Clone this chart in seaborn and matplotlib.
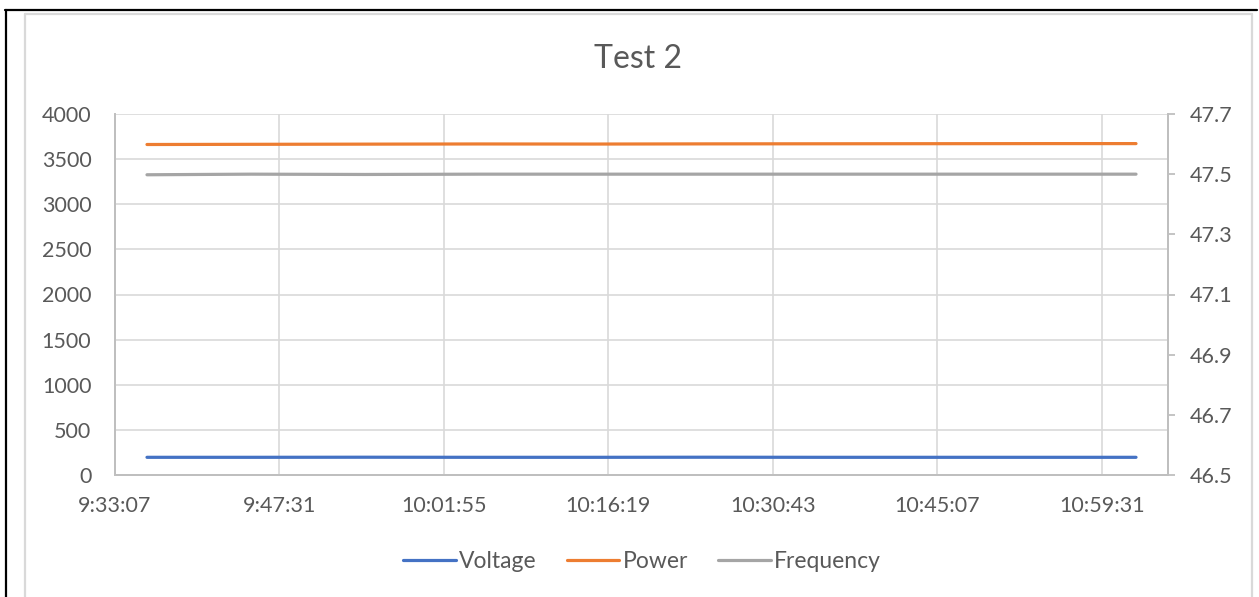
import pandas as pd
import matplotlib
matplotlib.use("Agg")
import matplotlib.pyplot as plt
from matplotlib.lines import Line2D
import seaborn as sns

# -----------------------------
# DATA
# -----------------------------

TIMES = ["9:35:55", "9:45:00", "9:55:00", "10:05:00", "10:15:00",
         "10:25:00", "10:35:00", "10:45:00", "10:55:00", "11:02:30"]

VOLTAGE = [196, 196, 197, 196, 196, 197, 196, 196, 196, 196]
POWER = [3662, 3664, 3666, 3668, 3667, 3669, 3670, 3671, 3672, 3672]
FREQUENCY = [47.498, 47.500, 47.499, 47.500, 47.500, 47.500, 47.500, 47.500, 47.500, 47.500]

X_TICK_LABELS = ["9:33:07", "9:47:31", "10:01:55", "10:16:19",
                 "10:30:43", "10:45:07", "10:59:31"]
X_LIMITS = ["9:33:07", "11:05:18"]

LEFT_TICKS = [0, 500, 1000, 1500, 2000, 2500, 3000, 3500, 4000]
RIGHT_TICKS = [46.5, 46.7, 46.9, 47.1, 47.3, 47.5, 47.7]

BLUE = "#4472C4"
ORANGE = "#ED7D31"
GREY = "#A5A5A5"
TEXT = "#595959"
GRID = "#D9D9D9"
SPINE = "#BFBFBF"


def to_time(labels):
    return pd.to_datetime(["2000-01-01 " + t for t in labels])


df = pd.DataFrame({
    "time": to_time(TIMES),
    "Voltage": VOLTAGE,
    "Power": POWER,
    "Frequency": FREQUENCY,
})

# -----------------------------
# PLOT
# -----------------------------

sns.set_theme(style="white")
plt.rcParams["font.family"] = ["Lato", "DejaVu Sans"]

fig = plt.figure(figsize=(12.59, 5.97), dpi=100)
ax = fig.add_axes([115 / 1259, 1 - 475 / 597, (1168 - 115) / 1259, (475 - 114) / 597])
ax2 = ax.twinx()

sns.lineplot(data=df, x="time", y="Voltage", ax=ax, color=BLUE, lw=2.3, legend=False)
sns.lineplot(data=df, x="time", y="Power", ax=ax, color=ORANGE, lw=2.3, legend=False)
sns.lineplot(data=df, x="time", y="Frequency", ax=ax2, color=GREY, lw=2.3, legend=False)

ax.set_xlim(to_time(X_LIMITS))
ax.set_xticks(to_time(X_TICK_LABELS))
ax.set_xticklabels(X_TICK_LABELS)
ax.set_ylim(0, 4000)
ax.set_yticks(LEFT_TICKS)
ax2.set_ylim(46.5, 47.7)
ax2.set_yticks(RIGHT_TICKS)
ax2.set_yticklabels([f"{v:.1f}" for v in RIGHT_TICKS])

ax.set_xlabel("")
ax.set_ylabel("")
ax2.set_ylabel("")

ax.grid(True, color=GRID, lw=1.2)
ax.set_axisbelow(True)

for a in (ax, ax2):
    a.spines["top"].set_visible(False)
    for side in ("left", "right", "bottom"):
        a.spines[side].set_color(SPINE)
        a.spines[side].set_linewidth(1.3)

ax.tick_params(axis="both", length=0, labelsize=15.5, labelcolor=TEXT)
ax.tick_params(axis="y", pad=17)
ax.tick_params(axis="x", pad=15)
ax2.tick_params(axis="y", length=5, width=1.3, color=SPINE, labelsize=15.5,
                labelcolor=TEXT, pad=11)

fig.text(638 / 1259, 1 - 59 / 597, "Test 2", ha="center", va="center",
         fontsize=23, color=TEXT)

handles = [Line2D([], [], color=c, lw=2.3) for c in (BLUE, ORANGE, GREY)]
fig.legend(handles, ["Voltage", "Power", "Frequency"], loc="center",
           bbox_to_anchor=(642 / 1259, 1 - 562 / 597), ncol=3, frameon=False,
           fontsize=16.5, labelcolor=TEXT, handlelength=2.3, handletextpad=0.15,
           columnspacing=1.3)

# screenshot frame and chart border
W, H = 1259, 597
fig.add_artist(Line2D([5 / W, 1257 / W], [1 - 9.5 / H, 1 - 9.5 / H], color="black", lw=1.6))
fig.add_artist(Line2D([5.5 / W, 5.5 / W], [0, 1 - 9.5 / H], color="black", lw=1.6))
fig.add_artist(Line2D([25 / W, 25 / W], [0, 1 - 14 / H], color=GRID, lw=1.6))
fig.add_artist(Line2D([25 / W, 1251.5 / W], [1 - 14 / H, 1 - 14 / H], color=GRID, lw=1.6))
fig.add_artist(Line2D([1251.5 / W, 1251.5 / W], [0, 1 - 14 / H], color=GRID, lw=1.6))

fig.savefig("out.png", dpi=100)
plt.close(fig)
